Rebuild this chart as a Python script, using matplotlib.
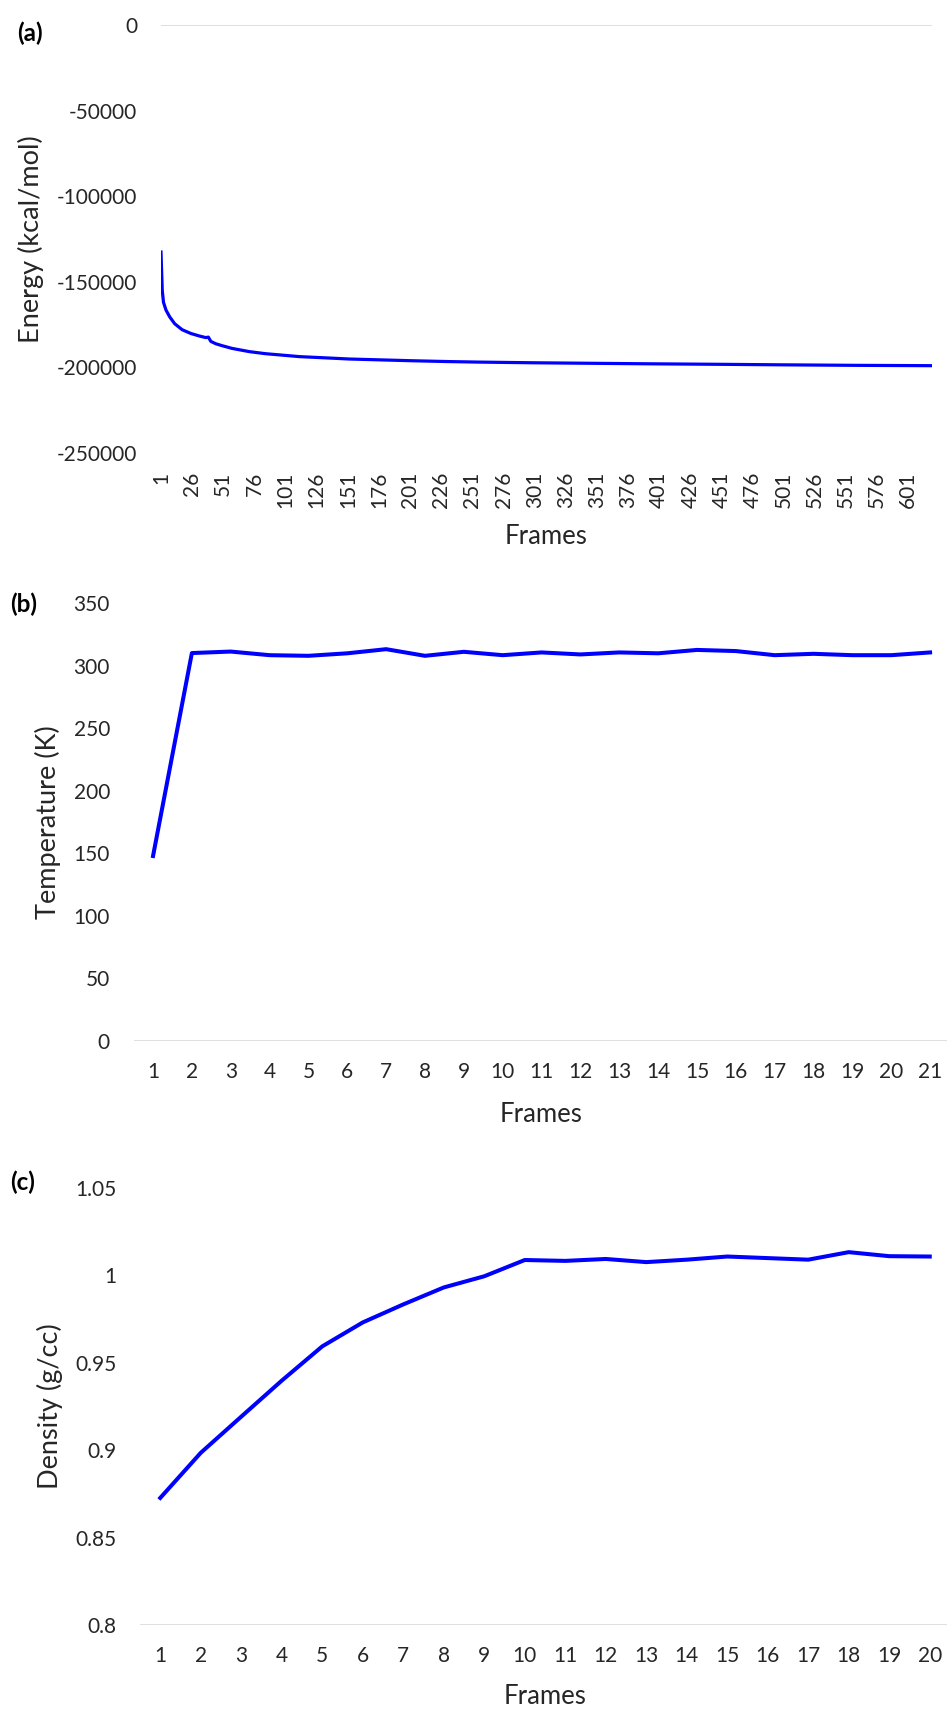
import numpy as np
import matplotlib
matplotlib.use("Agg")
import matplotlib.pyplot as plt
import matplotlib.transforms as mtransforms

plt.rcParams['font.family'] = ['Lato', 'DejaVu Sans']
plt.rcParams['axes.unicode_minus'] = False

# (a) potential energy along the trajectory
energy_frames = [1, 2, 3, 5, 8, 12, 18, 25, 32, 37, 39, 41, 45, 50, 58, 72, 85,
                 101, 112, 138, 152, 202, 232, 256, 300, 393, 450, 500, 560, 620]
energy = [-132600, -155000, -162000, -166500, -170500, -174500, -178000,
          -180200, -181700, -182600, -182300, -184800, -186200, -187300,
          -188900, -190800, -192000, -193000, -193700, -194600, -195100,
          -196100, -196600, -196900, -197300, -197900, -198200, -198500,
          -198800, -199000]
energy_xticks = list(range(1, 602, 25))
energy_yticks = [0, -50000, -100000, -150000, -200000, -250000]

# (b) temperature per frame
temp_frames = list(range(1, 22))
temperature = [147.8, 310.0, 311.2, 308.3, 307.8, 309.8, 313.1, 307.8, 311.0,
               308.3, 310.5, 308.9, 310.5, 309.8, 312.5, 311.6, 308.3, 309.4,
               308.3, 308.3, 310.5]
temp_yticks = [0, 50, 100, 150, 200, 250, 300, 350]

# (c) density per frame
dens_frames = list(range(1, 21))
density = [0.8727, 0.8985, 0.9192, 0.9398, 0.9594, 0.9731, 0.9834, 0.9931,
           0.9995, 1.0088, 1.0083, 1.0094, 1.0076, 1.0090, 1.0108, 1.0099,
           1.0090, 1.0133, 1.0110, 1.0108]
dens_yticks = [0.8, 0.85, 0.9, 0.95, 1.0, 1.05]

W, H = 947, 1710
fig = plt.figure(figsize=(W / 100, H / 100), dpi=100)

BLUE = '#0000ff'
TXT = '#262626'


def add_axes(left, right, top, bottom):
    return fig.add_axes([left / W, 1 - bottom / H, (right - left) / W,
                         (bottom - top) / H])


def style(ax, zero_y):
    for s in ax.spines.values():
        s.set_visible(False)
    ax.axhline(zero_y, color='#d9d9d9', lw=1.2, zorder=1)
    ax.tick_params(length=0, labelsize=15, colors=TXT)
    ax.tick_params(axis='y', pad=17)


# --- (a) ---
ax1 = add_axes(161, 932, 25, 453)
ax1.plot(energy_frames, energy, color=BLUE, lw=2.3, zorder=3)
ax1.set_xlim(1, 620)
ax1.set_ylim(-250000, 0)
style(ax1, 0)
ax1.set_yticks(energy_yticks)
ax1.set_yticklabels([str(v) for v in energy_yticks])
ax1.set_xticks(energy_xticks)
ax1.set_xticklabels([str(v) for v in energy_xticks], rotation=90)
ax1.tick_params(axis='x', pad=13.5)

# --- (b) ---
ax2 = add_axes(133.6, 949.5, 603, 1041)
ax2.plot(temp_frames, temperature, color=BLUE, lw=2.9, zorder=3)
ax2.set_xlim(0.5, 21.5)
ax2.set_ylim(0, 350)
style(ax2, 0)
ax2.set_yticks(temp_yticks)
ax2.set_xticks(temp_frames)
ax2.tick_params(axis='x', pad=15)

# --- (c) ---
ax3 = add_axes(140, 950, 1188, 1625)
ax3.plot(dens_frames, density, color=BLUE, lw=2.9, zorder=3)
ax3.set_xlim(0.5, 20.5)
ax3.set_ylim(0.8, 1.05)
style(ax3, 0.8)
ax3.set_yticks(dens_yticks)
ax3.set_yticklabels([f'{v:g}' for v in dens_yticks])
ax3.set_xticks(dens_frames)
ax3.tick_params(axis='x', pad=15)

# axis titles placed in figure pixels
for ax, ylab, lab_x, frames_y in [(ax1, 'Energy (kcal/mol)', 44, 537),
                                  (ax2, 'Temperature (K)', 61, 1114),
                                  (ax3, 'Density (g/cc)', 63, 1696)]:
    ax.set_ylabel(ylab, fontsize=19.5, color=TXT)
    ax.yaxis.set_label_coords(lab_x / W, 0.5, transform=mtransforms.blended_transform_factory(fig.transFigure, ax.transAxes))
    ax.set_xlabel('Frames', fontsize=18.5, color=TXT, va='center')
    ax.xaxis.set_label_coords(0.5, 1 - frames_y / H, transform=mtransforms.blended_transform_factory(ax.transAxes, fig.transFigure))

# panel letters
for letter, x, y in [('(a)', 17, 33), ('(b)', 10, 604), ('(c)', 10, 1182)]:
    fig.text(x / W, 1 - y / H, letter, fontsize=17.5, fontweight='bold',
             va='center', ha='left', color='black')

fig.savefig('out.png', dpi=100)
